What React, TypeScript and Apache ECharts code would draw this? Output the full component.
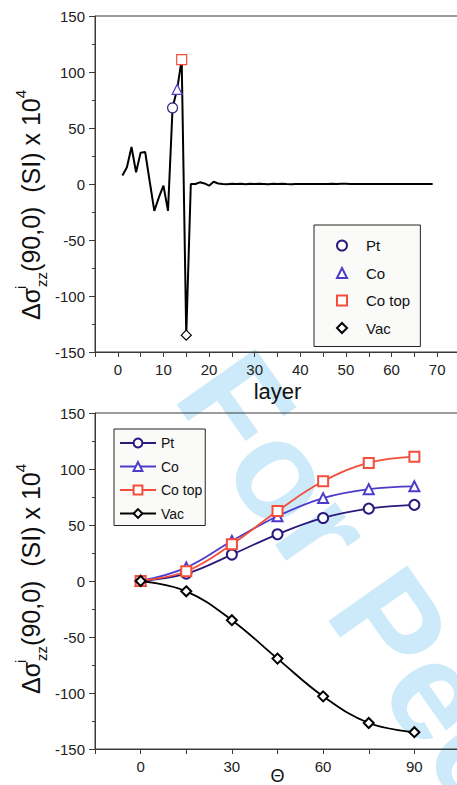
import React, { useEffect, useRef } from 'react';
import * as echarts from 'echarts';

// ---- data ----
const layers = [
  1, 2, 3, 4, 5, 6, 7, 8, 9, 10, 11, 12, 13, 14, 15, 16, 17, 18, 19, 20,
  21, 22, 23, 24, 25, 26, 27, 28, 29, 30, 31, 32, 33, 34, 35, 36, 37, 38, 39, 40,
  41, 42, 43, 44, 45, 46, 47, 48, 49, 50, 51, 52, 53, 54, 55, 56, 57, 58, 59, 60,
  61, 62, 63, 64, 65, 66, 67, 68, 69,
];
const layerValues = [
  7.5, 15, 33, 10.5, 28, 28.5, 2, -24, -12, -1.5, -24, 68, 84.5, 111, -135, 0, 0, 1.5, 0.5, -1.5,
  2, 0.5, 0, -0.3, 0.3, 0, 0.3, -0.2, 0.2, 0, 0.2, 0, -0.2, 0.2, 0, 0.3, 0, -0.2, 0, 0.1,
  0, -0.1, 0, 0.1, 0, 0, 0.2, 0, 0.3, 0.2, 0, 0, -0.1, 0, 0.1, 0, -0.1, 0, 0, 0,
  0, 0.1, 0, 0, 0.1, 0, 0, 0, 0,
];
const markerLayers = [12, 13, 14, 15]; // Pt, Co, Co top, Vac
const seriesNames = ['Pt', 'Co', 'Co top', 'Vac'];

const thetas = [0, 15, 30, 45, 60, 75, 90];
const ptValues = [0, 6.6, 23.6, 41.7, 56.3, 64.6, 68];
const coValues = [0, 12, 35.7, 57.8, 74, 82, 84.5];
const coTopValues = [0, 8.7, 32.8, 62.5, 89, 105.4, 111];
const vacValues = [0, -9.2, -35, -69.3, -103, -126.8, -135];

const yTickValues = [-150, -100, -50, 0, 50, 100, 150];

const FONT = 'Liberation Sans, Arial, Helvetica, sans-serif';
const colors = ['#2b1a7c', '#4d3cc9', '#f44e3b', '#000000'];
const emptySymbols = ['emptyCircle', 'emptyTriangle', 'emptyRect', 'emptyDiamond'];
const plainSymbols = ['circle', 'triangle', 'rect', 'diamond'];

export default function App() {
  const ref = useRef<HTMLDivElement>(null);
  useEffect(() => {
    if (!ref.current) return;
    const chart = echarts.init(ref.current, undefined, { renderer: 'svg' });

    const axisLineColor = '#3a3a3a';
    const yAxisCommon = (gridIndex: number) => ({
      type: 'value',
      gridIndex,
      min: yTickValues[0],
      max: yTickValues[yTickValues.length - 1],
      interval: 50,
      axisLine: { show: true, onZero: false, lineStyle: { color: axisLineColor, width: 1 } },
      axisTick: { show: true, length: 6, lineStyle: { color: axisLineColor } },
      minorTick: { show: true, splitNumber: 2, length: 3, lineStyle: { color: axisLineColor } },
      splitLine: { show: false },
      minorSplitLine: { show: false },
      axisLabel: { fontSize: 15, color: '#222', fontFamily: FONT, margin: 10 },
    });

    const bottomSeries = [ptValues, coValues, coTopValues, vacValues].map((vals, i) => ({
      name: seriesNames[i],
      type: 'line',
      xAxisIndex: 1,
      yAxisIndex: 1,
      smooth: 0.4,
      symbol: emptySymbols[i],
      symbolSize: 10,
      showAllSymbol: true,
      data: thetas.map((t, k) => [t, vals[k]]),
      lineStyle: { color: colors[i], width: 1.8 },
      itemStyle: { color: colors[i], borderWidth: 1.2 },
      z: 3 + i,
    }));

    const topMarkerSeries = markerLayers.map((l, i) => ({
      name: seriesNames[i] + ' ',
      type: 'scatter',
      xAxisIndex: 0,
      yAxisIndex: 0,
      symbol: plainSymbols[i],
      symbolSize: 10,
      data: [[l, layerValues[layers.indexOf(l)]]],
      itemStyle: { color: '#ffffff', borderColor: colors[i], borderWidth: 1.2, opacity: 1 },
      z: 5,
    }));

    const yLabelText = '{a|Δσ}{i|i}{sub|zz}{a|(90,0)  (SI) x 10}{sup|4}';
    const yLabelRich = {
      a: { fontSize: 25, fontFamily: FONT, fill: '#111', color: '#111', lineHeight: 36 },
      i: { fontSize: 15, fontFamily: FONT, fill: '#111', color: '#111', verticalAlign: 'top', width: 1, lineHeight: 18 },
      sub: { fontSize: 15, fontFamily: FONT, fill: '#111', color: '#111', verticalAlign: 'bottom', lineHeight: 16 },
      sup: { fontSize: 15, fontFamily: FONT, fill: '#111', color: '#111', verticalAlign: 'top', lineHeight: 18 },
    };
    const yLabel = (y: number) => ({
      type: 'text',
      x: 31,
      y,
      rotation: Math.PI / 2,
      z: 10,
      style: {
        text: yLabelText,
        rich: yLabelRich,
        fontSize: 25,
        fontFamily: FONT,
        fill: '#111',
        align: 'center',
        verticalAlign: 'middle',
      },
    });

    chart.setOption({
      animation: false,
      backgroundColor: '#ffffff',
      graphic: [
        {
          type: 'text',
          x: 211,
          y: 369,
          rotation: (-55 * Math.PI) / 180,
          z: -10,
          silent: true,
          style: {
            text: 'For Peer Review',
            fontSize: 140,
            fontWeight: 'bold',
            fontFamily: FONT,
            fill: '#cdeafa',
            align: 'left',
            verticalAlign: 'middle',
          },
        },
        yLabel(205),
        yLabel(579),
      ],
      grid: [
        {
          left: 95, top: 16, right: -3, height: 336, show: true, borderColor: axisLineColor,
          borderWidth: 1, backgroundColor: 'transparent', containLabel: false, outerBoundsMode: 'none',
        },
        {
          left: 95, top: 413, right: -3, height: 336, show: true, borderColor: axisLineColor,
          borderWidth: 1, backgroundColor: 'transparent', containLabel: false, outerBoundsMode: 'none',
        },
      ],
      legend: [
        {
          data: seriesNames.map((n) => n + ' '),
          orient: 'vertical',
          left: 314,
          top: 225,
          itemWidth: 10,
          itemHeight: 10,
          itemGap: 12.5,
          padding: [13, 6, 11, 22],
          backgroundColor: '#fafaf8',
          borderColor: '#222',
          borderWidth: 1,
          borderRadius: 0,
          textStyle: { fontSize: 15, fontFamily: FONT, color: '#111', padding: [0, 0, 0, 14] },
          selectedMode: false,
        },
        {
          data: seriesNames,
          orient: 'vertical',
          left: 114,
          top: 429,
          itemWidth: 36,
          itemHeight: 11,
          itemGap: 9.5,
          padding: [7, 3, 5, 5],
          backgroundColor: '#fafaf8',
          borderColor: '#222',
          borderWidth: 1,
          borderRadius: 0,
          textStyle: { fontSize: 14, fontFamily: FONT, color: '#111' },
          selectedMode: false,
        },
      ],
      xAxis: [
        {
          type: 'value',
          gridIndex: 0,
          min: -5,
          max: 75,
          interval: 5,
          name: 'layer',
          nameLocation: 'middle',
          nameGap: 28,
          nameTextStyle: { fontSize: 22, fontFamily: FONT, color: '#111' },
          axisLine: { show: true, onZero: false, lineStyle: { color: axisLineColor } },
          axisTick: { show: true, length: 5, lineStyle: { color: axisLineColor } },
          splitLine: { show: false },
          axisLabel: {
            fontSize: 15,
            color: '#222',
            fontFamily: FONT,
            margin: 10,
            formatter: (v: number) => (v >= 0 && v % 10 === 0 ? String(v) : ''),
          },
        },
        {
          type: 'value',
          gridIndex: 1,
          min: -15,
          max: 105,
          interval: 15,
          name: 'Θ',
          nameLocation: 'middle',
          nameGap: 19,
          nameMoveOverlap: false,
          nameTextStyle: { fontSize: 18, lineHeight: 15, fontFamily: FONT, color: '#111' },
          axisLine: { show: true, onZero: false, lineStyle: { color: axisLineColor } },
          axisTick: { show: true, length: 5, lineStyle: { color: axisLineColor } },
          splitLine: { show: false },
          axisLabel: {
            fontSize: 15,
            color: '#222',
            fontFamily: FONT,
            margin: 10,
            formatter: (v: number) => (v >= 0 && v <= 90 && v % 30 === 0 ? String(v) : ''),
          },
        },
      ],
      yAxis: [yAxisCommon(0), yAxisCommon(1)],
      series: [
        {
          name: 'profile',
          type: 'line',
          xAxisIndex: 0,
          yAxisIndex: 0,
          symbol: 'none',
          data: layers.map((l, k) => [l, layerValues[k]]),
          lineStyle: { color: '#000', width: 2 },
          z: 3,
        },
        ...topMarkerSeries,
        ...bottomSeries,
      ],
    });
    return () => chart.dispose();
  }, []);
  return (
    <div
      ref={ref}
      style={{ position: 'fixed', left: 0, top: 0, width: 457, height: 785, background: '#fff' }}
    />
  );
}
